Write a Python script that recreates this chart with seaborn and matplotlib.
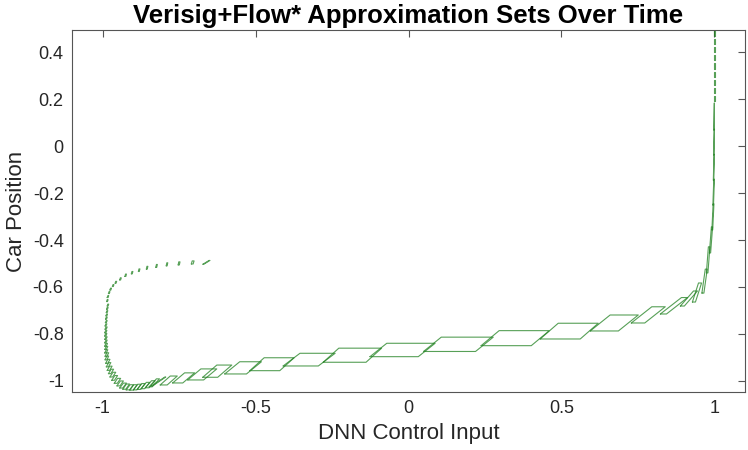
import numpy as np
import pandas as pd
import matplotlib
matplotlib.use("Agg")
import matplotlib.pyplot as plt
import seaborn as sns

# Approximation sets (parallelograms), in time order:
# bottom-left x, bottom y, bottom width, height, shear (x offset of top edge)
set_x = [-0.672, -0.710, -0.753, -0.792, -0.826, -0.857, -0.883, -0.906, -0.927, -0.944,
         -0.959, -0.968, -0.976, -0.981, -0.985, -0.987,
         -0.985, -0.987, -0.988, -0.989, -0.990, -0.991, -0.992, -0.992, -0.993, -0.993,
         -0.993, -0.993, -0.993, -0.993, -0.993, -0.992, -0.992, -0.990, -0.988, -0.985,
         -0.981, -0.976, -0.970, -0.962, -0.953,
         -0.944, -0.934, -0.923, -0.911, -0.899, -0.887, -0.874, -0.860, -0.848,
         -0.8396, -0.8118, -0.7709, -0.7217, -0.6726, -0.6007, -0.5188, -0.4098, -0.2788,
         -0.1260, 0.0491, 0.2373, 0.4304, 0.5941, 0.7283, 0.8233, 0.8887, 0.9280, 0.9591,
         0.9738, 0.9836, 0.9918, 0.9950, 0.9965, 0.9975, 0.9982,
         0.9985, 0.9986, 0.9987, 0.9988, 0.9989, 0.9990, 0.9991, 0.9992, 0.9993]
set_y = [-0.503, -0.502, -0.506, -0.510, -0.516, -0.524, -0.534, -0.544, -0.555, -0.570,
         -0.584, -0.598, -0.613, -0.628, -0.645, -0.662,
         -0.681, -0.695, -0.709, -0.723, -0.737, -0.752, -0.766, -0.780, -0.795, -0.809,
         -0.823, -0.838, -0.852, -0.866, -0.881, -0.895, -0.910, -0.925, -0.940, -0.955,
         -0.969, -0.983, -0.997, -1.010, -1.021,
         -1.030, -1.035, -1.038, -1.039, -1.038, -1.036, -1.033, -1.029, -1.025,
         -1.0213, -1.0170, -1.0085, -0.9957, -0.9843, -0.9702, -0.9562, -0.9362, -0.9204,
         -0.8966, -0.8745, -0.8498, -0.8213, -0.7872, -0.7532, -0.7149, -0.681, -0.664, -0.626,
         -0.540, -0.455, -0.357, -0.251, -0.145, -0.038, 0.068,
         0.190, 0.225, 0.260, 0.295, 0.330, 0.365, 0.400, 0.435, 0.470]
set_w = [0.003, 0.006, 0.004, 0.003, 0.003, 0.003, 0.003, 0.003, 0.003, 0.003,
         0.003, 0.003, 0.003, 0.003, 0.003, 0.003,
         0.003, 0.003, 0.003, 0.003, 0.003, 0.003, 0.003, 0.004, 0.004, 0.004,
         0.004, 0.004, 0.005, 0.005, 0.005, 0.006, 0.006, 0.007, 0.007, 0.008,
         0.008, 0.009, 0.009, 0.010, 0.010,
         0.010, 0.010, 0.011, 0.011, 0.011, 0.011, 0.011, 0.012, 0.010,
         0.003, 0.023, 0.033, 0.052, 0.049, 0.071, 0.098, 0.115, 0.140,
         0.158, 0.170, 0.164, 0.131, 0.092, 0.044, 0.020, 0.013, 0.010, 0.0065,
         0.005, 0.004, 0.0026, 0.002, 0.0015, 0.0012, 0.001,
         0.003, 0.003, 0.003, 0.003, 0.003, 0.003, 0.003, 0.003, 0.003]
set_h = [0.016, 0.013, 0.013, 0.013, 0.012, 0.012, 0.011, 0.010, 0.010, 0.009,
         0.008, 0.008, 0.008, 0.008, 0.008, 0.008,
         0.008, 0.008, 0.008, 0.008, 0.009, 0.009, 0.009, 0.010, 0.010, 0.011,
         0.011, 0.012, 0.012, 0.013, 0.014, 0.015, 0.016, 0.017, 0.018, 0.018,
         0.019, 0.020, 0.020, 0.021, 0.021,
         0.021, 0.022, 0.022, 0.023, 0.024, 0.025, 0.027, 0.030, 0.034,
         0.038, 0.038, 0.043, 0.047, 0.052, 0.052, 0.055, 0.054, 0.060,
         0.057, 0.061, 0.064, 0.067, 0.068, 0.069, 0.070, 0.064, 0.081, 0.102,
         0.111, 0.111, 0.111, 0.110, 0.110, 0.110, 0.115,
         0.022, 0.022, 0.022, 0.022, 0.022, 0.022, 0.022, 0.022, 0.022]
set_s = [0.020, 0.003, 0.002, 0.002, 0.002, 0.002, 0.002, 0.002, 0.002, 0.002,
         0.002, 0.002, 0.002, 0.002, 0.002, 0.002,
         0.002, 0.002, 0.002, 0.002, 0.002, 0.003, 0.003, 0.003, 0.003, 0.003,
         0.004, 0.004, 0.004, 0.005, 0.005, 0.006, 0.006, 0.007, 0.008, 0.008,
         0.009, 0.010, 0.010, 0.011, 0.011,
         0.012, 0.012, 0.013, 0.013, 0.014, 0.015, 0.017, 0.020, 0.024,
         0.043, 0.033, 0.039, 0.043, 0.046, 0.049, 0.047, 0.055, 0.051,
         0.055, 0.058, 0.059, 0.059, 0.065, 0.067, 0.069, 0.043, 0.020, 0.011,
         0.0065, 0.0065, 0.004, 0.003, 0.002, 0.0015, 0.001,
         0.000, 0.000, 0.000, 0.000, 0.000, 0.000, 0.000, 0.000, 0.000]

x_ticks = [-1, -0.5, 0, 0.5, 1]
x_tick_labels = ["-1", "-0.5", "0", "0.5", "1"]
y_ticks = [-1, -0.8, -0.6, -0.4, -0.2, 0, 0.2, 0.4]
y_tick_labels = ["-1", "-0.8", "-0.6", "-0.4", "-0.2", "0", "0.2", "0.4"]

# build polygon outlines
rows = []
for i, (x0, y0, w, h, s) in enumerate(zip(set_x, set_y, set_w, set_h, set_s)):
    verts = [(x0, y0), (x0 + w, y0), (x0 + w + s, y0 + h), (x0 + s, y0 + h), (x0, y0)]
    for k, (vx, vy) in enumerate(verts):
        rows.append({"set": i, "order": k, "x": vx, "y": vy})
df = pd.DataFrame(rows)

sns.set_theme(style="white")
plt.rcParams["font.family"] = ["Liberation Sans", "DejaVu Sans"]
plt.rcParams["axes.unicode_minus"] = False

fig = plt.figure(figsize=(7.48, 4.5), dpi=100)
ax = fig.add_axes([72 / 748, 1 - 392 / 450, (745 - 72) / 748, (392 - 30) / 450])

sns.lineplot(data=df, x="x", y="y", units="set", estimator=None, sort=False,
             color="#1f801f", alpha=0.75, lw=0.8, ax=ax)

ax.set_xlim(-1.1, 1.1)
ax.set_ylim(-1.047, 0.494)
ax.set_xticks(x_ticks)
ax.set_xticklabels(x_tick_labels)
ax.set_yticks(y_ticks)
ax.set_yticklabels(y_tick_labels)
ax.tick_params(direction="in", length=5, width=0.8, color="#555555",
               top=True, right=True, labelsize=13, labelcolor="#262626", pad=6)
for sp in ax.spines.values():
    sp.set_color("#555555")
    sp.set_linewidth(0.8)
    sp.set_visible(True)

ax.set_xlabel("DNN Control Input", fontsize=16, color="#262626", labelpad=4)
ax.set_ylabel("Car Position", fontsize=16, color="#262626", labelpad=4)
ax.set_title("Verisig+Flow* Approximation Sets Over Time", fontsize=18.5,
             fontweight="bold", color="black", pad=5)

fig.savefig("out.png", dpi=100)
